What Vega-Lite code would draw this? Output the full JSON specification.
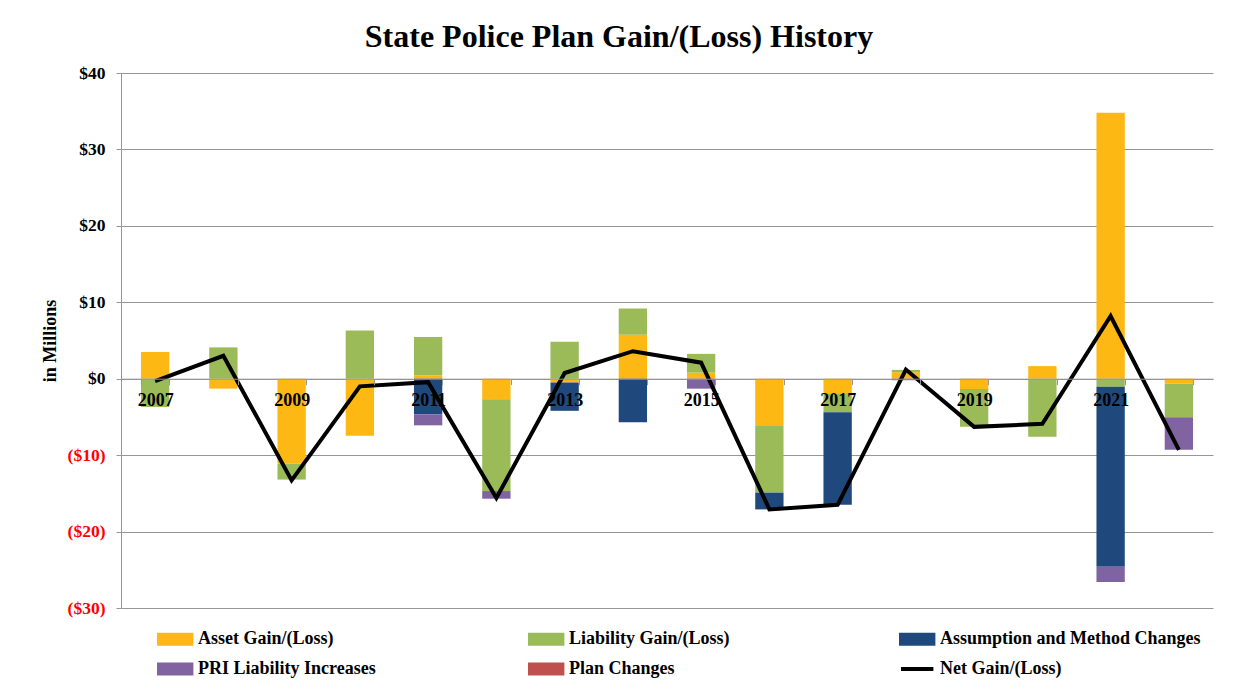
{
  "$schema": "https://vega.github.io/schema/vega-lite/v6.json",
  "width": 1092,
  "height": 535,
  "autosize": {"type": "none"},
  "padding": {"left": 121, "top": 73, "right": 36, "bottom": 90},
  "background": "white",
  "title": {
    "text": "State Police Plan Gain/(Loss) History",
    "font": "Liberation Serif",
    "fontSize": 32,
    "fontWeight": "bold",
    "color": "black",
    "anchor": "middle",
    "frame": "group",
    "dx": -48,
    "dy": 38,
    "baseline": "alphabetic",
    "offset": 23
  },
  "datasets": {
    "bars": [
      {"year": 2007, "series": "Asset Gain/(Loss)", "k": 1, "value": 3.5},
      {"year": 2007, "series": "Liability Gain/(Loss)", "k": 2, "value": -3.7},
      {"year": 2008, "series": "Asset Gain/(Loss)", "k": 1, "value": -1.3},
      {"year": 2008, "series": "Liability Gain/(Loss)", "k": 2, "value": 4.1},
      {"year": 2009, "series": "Asset Gain/(Loss)", "k": 1, "value": -11.1},
      {"year": 2009, "series": "Liability Gain/(Loss)", "k": 2, "value": -2.1},
      {"year": 2010, "series": "Asset Gain/(Loss)", "k": 1, "value": -7.45},
      {"year": 2010, "series": "Liability Gain/(Loss)", "k": 2, "value": 6.3},
      {"year": 2011, "series": "Asset Gain/(Loss)", "k": 1, "value": 0.45},
      {"year": 2011, "series": "Liability Gain/(Loss)", "k": 2, "value": 5.0},
      {"year": 2011, "series": "Assumption and Method Changes", "k": 3, "value": -4.65},
      {"year": 2011, "series": "PRI Liability Increases", "k": 4, "value": -1.45},
      {"year": 2012, "series": "Asset Gain/(Loss)", "k": 1, "value": -2.7},
      {"year": 2012, "series": "Liability Gain/(Loss)", "k": 2, "value": -12.0},
      {"year": 2012, "series": "PRI Liability Increases", "k": 4, "value": -1.0},
      {"year": 2013, "series": "Asset Gain/(Loss)", "k": 1, "value": -0.5},
      {"year": 2013, "series": "Liability Gain/(Loss)", "k": 2, "value": 4.85},
      {"year": 2013, "series": "Assumption and Method Changes", "k": 3, "value": -3.7},
      {"year": 2014, "series": "Asset Gain/(Loss)", "k": 1, "value": 5.75},
      {"year": 2014, "series": "Liability Gain/(Loss)", "k": 2, "value": 3.45},
      {"year": 2014, "series": "Assumption and Method Changes", "k": 3, "value": -5.7},
      {"year": 2015, "series": "Asset Gain/(Loss)", "k": 1, "value": 0.8},
      {"year": 2015, "series": "Liability Gain/(Loss)", "k": 2, "value": 2.45},
      {"year": 2015, "series": "PRI Liability Increases", "k": 4, "value": -1.3},
      {"year": 2016, "series": "Asset Gain/(Loss)", "k": 1, "value": -6.2},
      {"year": 2016, "series": "Liability Gain/(Loss)", "k": 2, "value": -8.7},
      {"year": 2016, "series": "Assumption and Method Changes", "k": 3, "value": -2.2},
      {"year": 2017, "series": "Asset Gain/(Loss)", "k": 1, "value": -1.9},
      {"year": 2017, "series": "Liability Gain/(Loss)", "k": 2, "value": -2.5},
      {"year": 2017, "series": "Assumption and Method Changes", "k": 3, "value": -12.1},
      {"year": 2018, "series": "Asset Gain/(Loss)", "k": 1, "value": 0.85},
      {"year": 2018, "series": "Liability Gain/(Loss)", "k": 2, "value": 0.3},
      {"year": 2018, "series": "PRI Liability Increases", "k": 4, "value": -0.2},
      {"year": 2019, "series": "Asset Gain/(Loss)", "k": 1, "value": -1.35},
      {"year": 2019, "series": "Liability Gain/(Loss)", "k": 2, "value": -4.95},
      {"year": 2020, "series": "Asset Gain/(Loss)", "k": 1, "value": 1.65},
      {"year": 2020, "series": "Liability Gain/(Loss)", "k": 2, "value": -7.6},
      {"year": 2021, "series": "Asset Gain/(Loss)", "k": 1, "value": 34.8},
      {"year": 2021, "series": "Liability Gain/(Loss)", "k": 2, "value": -1.05},
      {"year": 2021, "series": "Assumption and Method Changes", "k": 3, "value": -23.55},
      {"year": 2021, "series": "PRI Liability Increases", "k": 4, "value": -2.0},
      {"year": 2022, "series": "Asset Gain/(Loss)", "k": 1, "value": -0.65},
      {"year": 2022, "series": "Liability Gain/(Loss)", "k": 2, "value": -4.4},
      {"year": 2022, "series": "PRI Liability Increases", "k": 4, "value": -4.25}
    ],
    "net": [
      {"year": 2007, "series": "Net Gain/(Loss)", "value": -0.3},
      {"year": 2008, "series": "Net Gain/(Loss)", "value": 3.0},
      {"year": 2009, "series": "Net Gain/(Loss)", "value": -13.3},
      {"year": 2010, "series": "Net Gain/(Loss)", "value": -1.0},
      {"year": 2011, "series": "Net Gain/(Loss)", "value": -0.45},
      {"year": 2012, "series": "Net Gain/(Loss)", "value": -15.6},
      {"year": 2013, "series": "Net Gain/(Loss)", "value": 0.75},
      {"year": 2014, "series": "Net Gain/(Loss)", "value": 3.6},
      {"year": 2015, "series": "Net Gain/(Loss)", "value": 2.1},
      {"year": 2016, "series": "Net Gain/(Loss)", "value": -17.1},
      {"year": 2017, "series": "Net Gain/(Loss)", "value": -16.5},
      {"year": 2018, "series": "Net Gain/(Loss)", "value": 1.2},
      {"year": 2019, "series": "Net Gain/(Loss)", "value": -6.3},
      {"year": 2020, "series": "Net Gain/(Loss)", "value": -5.9},
      {"year": 2021, "series": "Net Gain/(Loss)", "value": 8.2},
      {"year": 2022, "series": "Net Gain/(Loss)", "value": -9.3}
    ]
  },
  "encoding": {
    "x": {
      "field": "year",
      "type": "ordinal",
      "scale": {"paddingInner": 0.585, "paddingOuter": 0.2925},
      "axis": {
        "title": null,
        "offset": -229.3,
        "tickBand": "extent",
        "labelAngle": 0,
        "labelExpr": "datum.value % 2 == 1 ? datum.label : ''",
        "labelFont": "Liberation Serif",
        "labelFontSize": 18,
        "labelFontWeight": "bold",
        "labelColor": "black",
        "labelPadding": 7,
        "tickSize": 6,
        "grid": false,
        "zindex": 1
      }
    },
    "y": {
      "field": "value",
      "type": "quantitative",
      "scale": {"domain": [-30, 40], "nice": false},
      "axis": {
        "title": "in Millions",
        "titleFont": "Liberation Serif",
        "titleFontSize": 18,
        "titleFontWeight": "bold",
        "titleColor": "black",
        "titlePadding": 8,
        "values": [-30, -20, -10, 0, 10, 20, 30, 40],
        "labelExpr": "datum.value < 0 ? '($' + abs(datum.value) + ')' : '$' + datum.value + '\u00a0'",
        "labelFont": "Liberation Serif",
        "labelFontSize": 17.5,
        "labelFontWeight": "bold",
        "labelColor": {"condition": {"test": "datum.value < 0", "value": "#FF0000"}, "value": "black"},
        "labelPadding": 11,
        "tickSize": 5,
        "grid": true
      }
    }
  },
  "layer": [
    {
      "data": {"name": "bars"},
      "mark": {"type": "bar"},
      "encoding": {
        "y": {"field": "value", "type": "quantitative", "stack": "zero"},
        "order": {"field": "k", "type": "quantitative", "sort": "ascending"},
        "color": {
          "field": "series",
          "type": "nominal",
          "scale": {
            "domain": ["Asset Gain/(Loss)", "Liability Gain/(Loss)", "Assumption and Method Changes", "PRI Liability Increases", "Plan Changes", "Net Gain/(Loss)"],
            "range": ["#FDB813", "#9BBB59", "#1F497D", "#8064A2", "#C0504D", "#000000"]
          },
          "legend": {
            "title": null,
            "orient": "none",
            "legendX": 36,
            "legendY": 555,
            "direction": "horizontal",
            "columns": 3,
            "gridAlign": "all",
            "columnPadding": 63,
            "rowPadding": 4,
            "padding": 0,
            "symbolSize": 324,
            "symbolStrokeWidth": 0,
            "labelOffset": 19,
            "labelFont": "Liberation Serif",
            "labelFontSize": 18,
            "labelFontWeight": "bold",
            "labelColor": "black",
            "labelLimit": 400,
            "encode": {
              "symbols": {
                "update": {
                  "shape": {"signal": "datum.value === 'Net Gain/(Loss)' ? 'M-1,0H2.6' : 'M-1,-0.5H2.6V0.5H-1Z'"},
                  "fill": {"signal": "datum.value === 'Net Gain/(Loss)' ? 'transparent' : scale('color', datum.value)"},
                  "stroke": {"signal": "datum.value === 'Net Gain/(Loss)' ? 'black' : 'transparent'"},
                  "strokeWidth": {"value": 4},
                  "opacity": {"value": 1}
                }
              }
            }
          }
        }
      }
    },
    {
      "data": {"name": "net"},
      "mark": {"type": "line", "strokeWidth": 4, "strokeJoin": "miter"},
      "encoding": {
        "color": {"field": "series", "type": "nominal"}
      }
    }
  ],
  "config": {
    "view": {"stroke": null},
    "axis": {"gridColor": "#969696", "domainColor": "#969696", "tickColor": "#969696", "gridWidth": 1, "domainWidth": 1}
  }
}
